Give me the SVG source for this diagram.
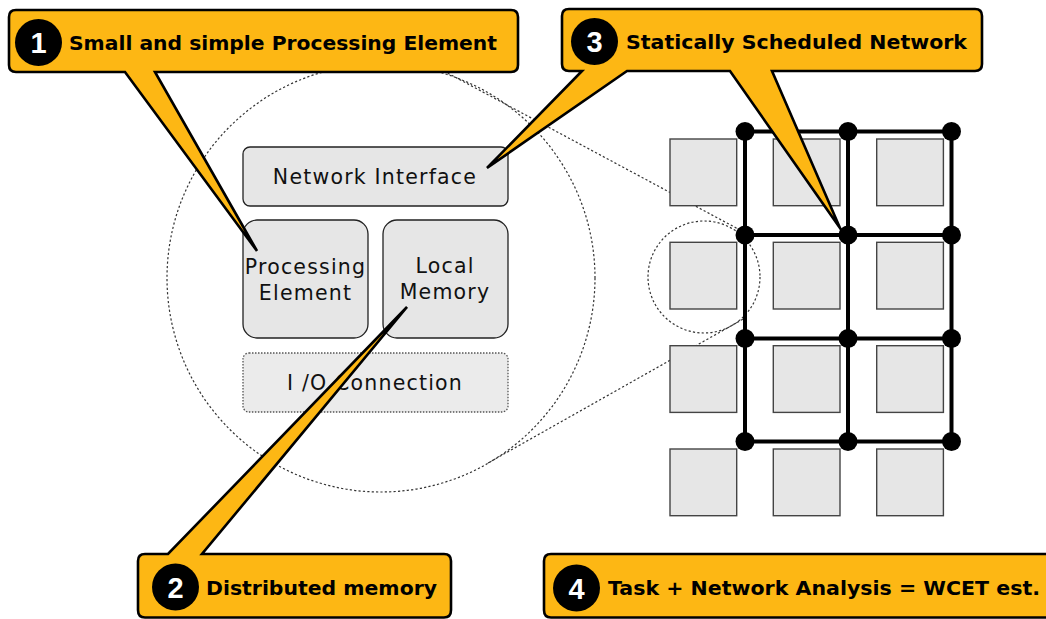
<svg xmlns="http://www.w3.org/2000/svg" width="1046" height="619" viewBox="0 0 1046 619">
<style>
.dot{fill:none;stroke:#333;stroke-width:1.2;stroke-dasharray:2.2,2.2}
.box{fill:#e6e6e6;stroke:#222;stroke-width:1.3}
.io{fill:#ebebeb;stroke:#555;stroke-width:1.3;stroke-dasharray:1.5,1.5}
.lbl{font-family:"DejaVu Sans",sans-serif;font-size:20.5px;fill:#111;text-anchor:middle;letter-spacing:1.2px}
.sq{fill:#e6e6e6;stroke:#444;stroke-width:1.4}
.net{stroke:#000;stroke-width:4;fill:none}
.nd{fill:#000}
.call{fill:#fdb714;stroke:#000;stroke-width:2.6;stroke-linejoin:miter;stroke-miterlimit:10}
.num{fill:#000}
.numt{font-family:"Liberation Sans",Arial,sans-serif;font-weight:bold;font-size:29px;fill:#fff;text-anchor:middle}
.ct{font-family:"DejaVu Sans",sans-serif;font-weight:bold;font-size:20px;fill:#000}
</style>
<g id="zoom-outline">
<circle class="dot" cx="381" cy="278" r="214"/>
<circle class="dot" cx="704" cy="277" r="56"/>
<line class="dot" x1="440" y1="69" x2="740" y2="230"/>
<line class="dot" x1="488" y1="463" x2="745" y2="318"/>
</g>
<g id="network-interface">
<rect class="box" x="243" y="147" width="265" height="59" rx="7"/>
<text class="lbl" x="375" y="183.5">Network Interface</text>
</g>
<g id="processing-element">
<rect class="box" x="243" y="220" width="125" height="118" rx="14"/>
<text class="lbl" x="305.5" y="273.5">Processing</text>
<text class="lbl" x="305.5" y="300">Element</text>
</g>
<g id="local-memory">
<rect class="box" x="383" y="220" width="125" height="118" rx="14"/>
<text class="lbl" x="445" y="272.5">Local</text>
<text class="lbl" x="445" y="298.5">Memory</text>
</g>
<g id="io-connection">
<rect class="io" x="243" y="353" width="265" height="59" rx="6"/>
<text class="lbl" x="375" y="390">I /O Connection</text>
</g>
<g id="tiles">
<rect class="sq" x="670" y="139" width="66.7" height="66.7"/>
<rect class="sq" x="773.3" y="139" width="66.7" height="66.7"/>
<rect class="sq" x="876.7" y="139" width="66.7" height="66.7"/>
<rect class="sq" x="670" y="242.3" width="66.7" height="66.7"/>
<rect class="sq" x="773.3" y="242.3" width="66.7" height="66.7"/>
<rect class="sq" x="876.7" y="242.3" width="66.7" height="66.7"/>
<rect class="sq" x="670" y="345.7" width="66.7" height="66.7"/>
<rect class="sq" x="773.3" y="345.7" width="66.7" height="66.7"/>
<rect class="sq" x="876.7" y="345.7" width="66.7" height="66.7"/>
<rect class="sq" x="670" y="449" width="66.7" height="66.7"/>
<rect class="sq" x="773.3" y="449" width="66.7" height="66.7"/>
<rect class="sq" x="876.7" y="449" width="66.7" height="66.7"/>
</g>
<g id="connectors">
<path class="net" d="M745,131.5H951.5M745,235H951.5M745,338.5H951.5M745,441.5H951.5M745,131.5V441.5M848,131.5V441.5M951.5,131.5V441.5"/>
</g>
<g id="routers">
<circle class="nd" cx="745" cy="131.5" r="9.5"/><circle class="nd" cx="848" cy="131.5" r="9.5"/><circle class="nd" cx="951.5" cy="131.5" r="9.5"/>
<circle class="nd" cx="745" cy="235" r="9.5"/><circle class="nd" cx="848" cy="235" r="9.5"/><circle class="nd" cx="951.5" cy="235" r="9.5"/>
<circle class="nd" cx="745" cy="338.5" r="9.5"/><circle class="nd" cx="848" cy="338.5" r="9.5"/><circle class="nd" cx="951.5" cy="338.5" r="9.5"/>
<circle class="nd" cx="745" cy="441.5" r="9.5"/><circle class="nd" cx="848" cy="441.5" r="9.5"/><circle class="nd" cx="951.5" cy="441.5" r="9.5"/>
</g>
<g id="callout-1">
<path class="call" d="M16,10H511Q518,10 518,17V65Q518,72 511,72H155L257,251L125,72H16Q9,72 9,65V17Q9,10 16,10Z"/>
<circle class="num" cx="38.5" cy="42.5" r="23.5"/>
<text class="numt" x="38.5" y="53">1</text>
<text class="ct" x="69" y="50" textLength="428" lengthAdjust="spacingAndGlyphs">Small and simple Processing Element</text>
</g>
<g id="callout-3">
<path class="call" d="M569,9H975Q982,9 982,16V64Q982,71 975,71H772L840,228L730,71H627L487,168L582,71H569Q562,71 562,64V16Q562,9 569,9Z"/>
<circle class="num" cx="594.5" cy="41.5" r="23.5"/>
<text class="numt" x="594.5" y="52">3</text>
<text class="ct" x="626" y="49" textLength="341" lengthAdjust="spacingAndGlyphs">Statically Scheduled Network</text>
</g>
<g id="callout-2">
<path class="call" d="M145,554H168L407,307L202,554H444Q451,554 451,561V610Q451,617.5 444,617.5H145Q138,617.5 138,610V561Q138,554 145,554Z"/>
<circle class="num" cx="175.5" cy="587" r="23.5"/>
<text class="numt" x="175.5" y="597.5">2</text>
<text class="ct" x="206" y="595" textLength="231" lengthAdjust="spacingAndGlyphs">Distributed memory</text>
</g>
<g id="callout-4">
<path class="call" d="M551,554H1060V617.5H551Q544,617.5 544,610V561Q544,554 551,554Z"/>
<circle class="num" cx="576.5" cy="588" r="23.5"/>
<text class="numt" x="576.5" y="598.5">4</text>
<text class="ct" x="608" y="595" textLength="432" lengthAdjust="spacingAndGlyphs">Task + Network Analysis = WCET est.</text>
</g>
</svg>
